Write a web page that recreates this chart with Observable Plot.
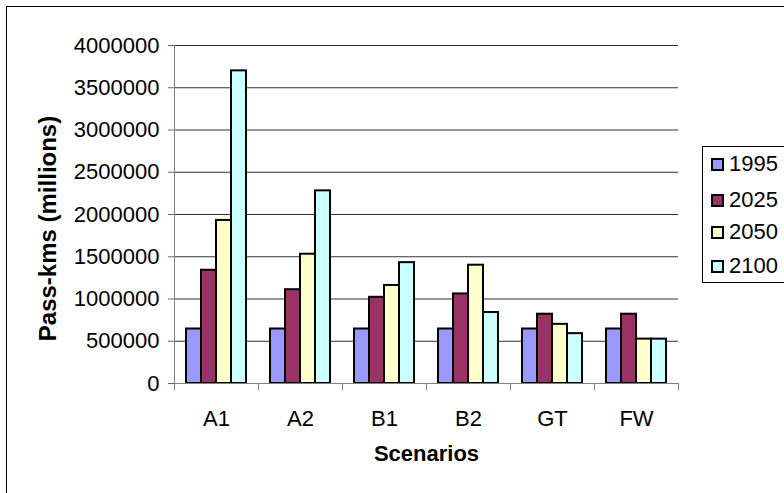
<!DOCTYPE html>
<html>
<head>
<meta charset="utf-8">
<script src="https://cdn.jsdelivr.net/npm/d3@7"></script>
<script src="https://cdn.jsdelivr.net/npm/@observablehq/plot@0.6"></script>
<style>
  html, body { margin: 0; padding: 0; background: #fff; }
  #wrap { position: relative; width: 784px; height: 493px; overflow: hidden; font-family: Arial, "Liberation Sans", sans-serif; }
  #border { position: absolute; left: 6px; top: 6px; width: 900px; height: 700px; border: 1px solid #000; pointer-events: none; }
  #chart { position: absolute; left: 0; top: 0; }
  #legend { position: absolute; left: 702px; top: 146px; width: 90px; height: 135px; border: 1px solid #000; background: #fff; }
  .item { position: absolute; left: 8px; height: 24px; display: flex; align-items: center; font-size: 22px; color: #000; }
  .sw { width: 9px; height: 9px; border: 2px solid #000; margin-right: 5px; }
</style>
</head>
<body>
<div id="wrap">
  <div id="chart"></div>
  <div id="border"></div>
  <div id="legend"></div>
</div>
<script>
const scenarios = ["A1", "A2", "B1", "B2", "GT", "FW"];
const years = ["1995", "2025", "2050", "2100"];
const v1995 = [645000, 645000, 645000, 645000, 645000, 645000];
const v2025 = [1340000, 1110000, 1020000, 1060000, 820000, 820000];
const v2050 = [1930000, 1530000, 1160000, 1400000, 700000, 525000];
const v2100 = [3700000, 2280000, 1430000, 840000, 590000, 525000];
const colors = ["#9999FF", "#993366", "#FFFFCC", "#CCFFFF"];
const yTicks = [0, 500000, 1000000, 1500000, 2000000, 2500000, 3000000, 3500000, 4000000];

const series = [v1995, v2025, v2050, v2100];
const data = [];
scenarios.forEach((s, i) => years.forEach((y, j) => data.push({scenario: s, year: y, value: series[j][i]})));

// boundary tick marks under the category axis (Excel style)
function edgeTick(anchor, facetAnchor) {
  return Plot.frame({
    anchor, facetAnchor, stroke: "#808080", strokeWidth: 1,
    render(index, scales, values, dims, ctx, next) {
      const el = next(index, scales, values, dims, ctx);
      const y0 = dims.height - dims.marginBottom;
      const lines = el.tagName && el.tagName.toLowerCase() === "line" ? [el] : el.querySelectorAll("line");
      lines.forEach(l => { l.setAttribute("y1", y0); l.setAttribute("y2", y0 + 6); });
      return el;
    }
  });
}

const font = 'Arial, "Liberation Sans", sans-serif';
const chart = Plot.plot({
  width: 700,
  height: 493,
  marginLeft: 172,
  marginRight: 20,
  marginTop: 45,
  marginBottom: 110,
  style: {fontFamily: font, fontSize: "22px", color: "#000", background: "transparent"},
  fx: {domain: scenarios, padding: 0},
  x: {domain: years, paddingInner: 0, paddingOuter: 0.73, axis: null},
  y: {domain: [0, 4000000]},
  color: {domain: years, range: colors},
  marks: [
    Plot.gridY(yTicks, {stroke: "#333", strokeOpacity: 1}),
    Plot.barY(data, {fx: "scenario", x: "year", y: "value", fill: "year", stroke: "#000", strokeWidth: 2}),
    Plot.frame({anchor: "left", facetAnchor: "left", stroke: "#808080"}),
    Plot.ruleY([0], {stroke: "#808080"}),
    edgeTick("left"),
    edgeTick("right", "right"),
    Plot.axisY(yTicks, {tickSize: 6, tickPadding: 9, tickFormat: d3.format("d"), label: null, stroke: "#666", fontSize: 22}),
    Plot.axisFx({anchor: "bottom", tickSize: 0, tickPadding: 27, label: null, fontSize: 22}),
    Plot.text(["Scenarios"], {frameAnchor: "bottom", dy: 70, lineAnchor: "middle", textAnchor: "middle", facet: "super", fontWeight: "bold", fontSize: 22}),
    Plot.text(["Pass-kms (millions)"], {frameAnchor: "left", dx: -126, dy: 14, rotate: -90, lineAnchor: "middle", textAnchor: "middle", facet: "super", fontWeight: "bold", fontSize: 24})
  ]
});
document.getElementById("chart").appendChild(chart);

const legend = document.getElementById("legend");
const tops = [5, 41, 73, 107];
years.forEach((y, i) => {
  const it = document.createElement("div");
  it.className = "item";
  it.style.top = tops[i] + "px";
  const sw = document.createElement("div");
  sw.className = "sw";
  sw.style.background = colors[i];
  it.appendChild(sw);
  it.appendChild(document.createTextNode(y));
  legend.appendChild(it);
});
</script>
</body>
</html>
